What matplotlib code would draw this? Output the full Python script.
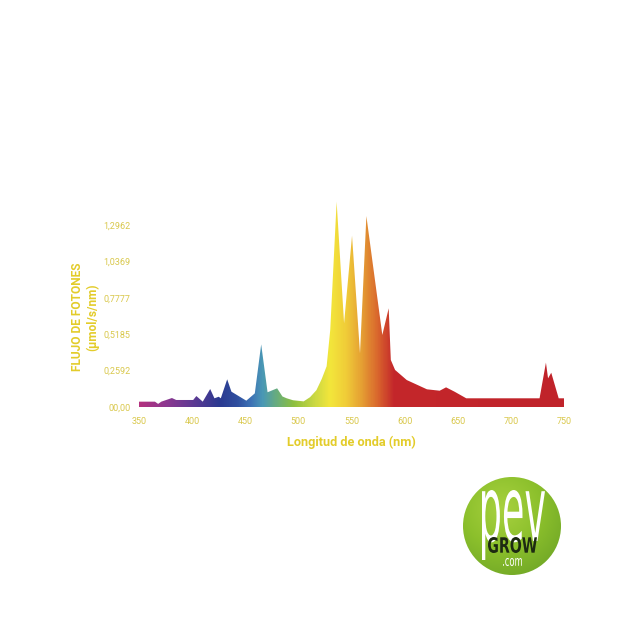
import numpy as np
import matplotlib
matplotlib.use('Agg')
import matplotlib.pyplot as plt
from matplotlib.colors import LinearSegmentedColormap
from matplotlib.patches import Polygon, Circle, PathPatch
from matplotlib.textpath import TextPath
from matplotlib.font_manager import FontProperties
from matplotlib.transforms import Affine2D

# spectrum
wavelength = [350, 365, 368, 371, 381, 385, 401, 404, 410, 417, 421, 425, 427, 433, 437,
              451, 459, 465, 471, 480, 485, 489, 495, 505, 511, 517, 522, 526.6, 530, 536,
              543, 550.5, 558, 564, 579, 585, 587, 591, 602, 621, 633, 639, 647, 658,
              727, 733, 735, 738, 745, 750]
flux = [0.038, 0.038, 0.022, 0.038, 0.064, 0.050, 0.050, 0.078, 0.038, 0.128, 0.062, 0.073, 0.062, 0.197, 0.109,
        0.045, 0.097, 0.446, 0.105, 0.133, 0.075, 0.062, 0.048, 0.040, 0.070, 0.120, 0.200, 0.290, 0.550, 1.462,
        0.596, 1.220, 0.382, 1.360, 0.513, 0.703, 0.335, 0.264, 0.192, 0.126, 0.116, 0.140, 0.109, 0.062,
        0.062, 0.316, 0.204, 0.244, 0.062, 0.062]

x_ticks = [350, 400, 450, 500, 550, 600, 650, 700, 750]
y_ticks = [0, 0.2592, 0.5185, 0.7777, 1.0369, 1.2962]
y_tick_labels = ['00,00', '0,2592', '0,5185', '0,7777', '1,0369', '1,2962']

# colour stops along the wavelength axis
stop_nm = [350, 375, 400, 425, 442, 455, 466, 480, 495, 515, 530, 545, 560, 575, 590, 750]
stop_col = ['#b3317f', '#8c3890', '#5e3a93', '#2b3990', '#2f4f9f', '#3d72b5', '#4a98b5', '#6aae7a',
            '#8cbf3f', '#cad843', '#f3e63b', '#f0cc38', '#e59e33', '#d9652d', '#c4272b', '#c0232a']

label_col = '#e3cc2a'
tick_col = '#d9c84c'

fig = plt.figure(figsize=(6.43, 6.43), dpi=100)
ax = fig.add_axes([139/643, (643-407)/643, 425/643, 1.5*140.4/643])
ax.set_xlim(350, 750)
ax.set_ylim(0, 1.5)

pos = [(v - 350) / 400 for v in stop_nm]
cmap = LinearSegmentedColormap.from_list('spec', list(zip(pos, stop_col)))
grad = np.linspace(0, 1, 800).reshape(1, -1)
im = ax.imshow(grad, extent=[350, 750, 0, 1.5], aspect='auto', cmap=cmap, origin='lower')

verts = list(zip(wavelength, flux)) + [(750, 0), (350, 0)]
poly = Polygon(verts, closed=True, facecolor='none', edgecolor='none')
ax.add_patch(poly)
im.set_clip_path(poly)

for s in ax.spines.values():
    s.set_visible(False)
ax.set_xticks(x_ticks)
ax.set_xticklabels([str(t) for t in x_ticks])
ax.set_yticks(y_ticks)
ax.set_yticklabels(y_tick_labels)
ax.tick_params(length=0, colors=tick_col, labelsize=6.5, pad=6)
ax.tick_params(axis='x', pad=7)
for lab in ax.get_xticklabels() + ax.get_yticklabels():
    lab.set_family('Roboto')

ax.set_xlabel('Longitud de onda (nm)', fontsize=9.2, fontweight='bold', color=label_col,
              family='Roboto', labelpad=7)
fig.text(85/643, 1 - 317/643, 'FLUJO DE FOTONES\n(µmol/s/nm)', rotation=90, ha='center', va='center',
         fontsize=8.6, fontweight='bold', color=label_col, family='Roboto', linespacing=1.15)

# logo, coordinates in pixels (y measured upward)
lax = fig.add_axes([450/643, 60/643, 125/643, 125/643])
lax.set_xlim(450, 575)
lax.set_ylim(60, 185)
lax.axis('off')
cx, cy, r = 512, 643 - 526, 49
disc = Circle((cx, cy), r, facecolor='none', edgecolor='none')
lax.add_patch(disc)
gx, gy = np.meshgrid(np.linspace(450, 575, 200), np.linspace(60, 185, 200))
shade = np.hypot(gx - (cx - 10), gy - (cy + 18)) / (1.6 * r)
green = LinearSegmentedColormap.from_list('g', ['#a8d13f', '#8cc02c', '#6ea526'])
gim = lax.imshow(shade, extent=[450, 575, 60, 185], origin='lower', cmap=green, vmin=0, vmax=1,
                 aspect='auto')
gim.set_clip_path(disc)


def put_text(s, prop, x0, x1, y0, y1, color):
    tp = TextPath((0, 0), s, size=1, prop=prop)
    bb = tp.get_extents()
    tr = Affine2D().translate(-bb.x0, -bb.y0).scale((x1 - x0) / bb.width, (y1 - y0) / bb.height)
    tr = tr.translate(x0, y0)
    lax.add_patch(PathPatch(tr.transform_path(tp), facecolor=color, edgecolor='none'))


put_text('pev', FontProperties(family='DejaVu Sans'), 482, 545, 643 - 560, 643 - 490, 'white')
put_text('GROW', FontProperties(family='DejaVu Sans', weight='bold'), 488, 537, 643 - 553, 643 - 537, '#1d2a12')
put_text('.com', FontProperties(family='DejaVu Sans'), 503, 522, 643 - 566, 643 - 558, 'white')

fig.savefig('out.png', dpi=100, facecolor='white')
